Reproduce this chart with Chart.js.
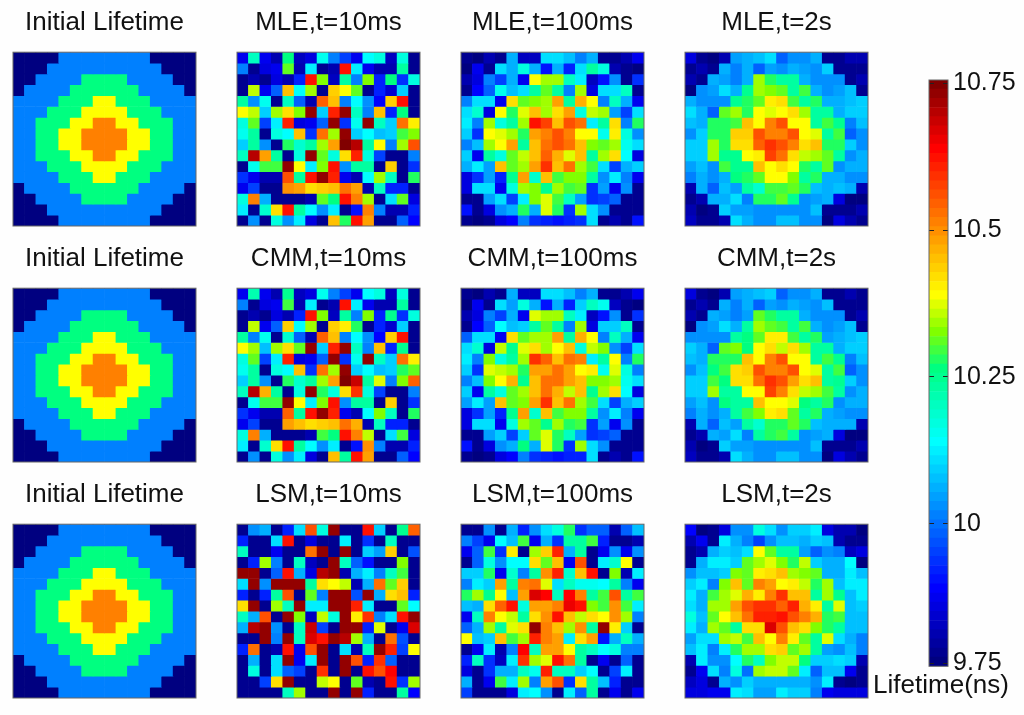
<!DOCTYPE html>
<html>
<head>
<meta charset="utf-8">
<title>Lifetime maps</title>
<script src="https://cdn.jsdelivr.net/npm/chart.js@4/dist/chart.umd.min.js"></script>
<style>
  html, body { margin: 0; padding: 0; background: #fefefe; }
  #page { position: relative; width: 1024px; height: 715px; overflow: hidden; }
  canvas { position: absolute; filter: blur(0.6px); }
</style>
</head>
<body>
<div id="page"></div>
<script>
/* ---------------------------
   Data: lifetime in ns, rows top to bottom
--------------------------- */
const initialLifetime = [
  [9.75,9.75,9.75,9.75,10,10,10,10,10,10,10,10,9.75,9.75,9.75,9.75],
  [9.75,9.75,9.75,10,10,10,10,10,10,10,10,10,10,9.75,9.75,9.75],
  [9.75,9.75,10,10,10,10,10.25,10.25,10.25,10.25,10,10,10,10,9.75,9.75],
  [9.75,10,10,10,10,10.25,10.25,10.25,10.25,10.25,10.25,10,10,10,10,9.75],
  [10,10,10,10,10.25,10.25,10.25,10.38,10.38,10.25,10.25,10.25,10,10,10,10],
  [10,10,10,10.25,10.25,10.25,10.38,10.38,10.38,10.38,10.25,10.25,10.25,10,10,10],
  [10,10,10.25,10.25,10.25,10.38,10.38,10.5,10.5,10.38,10.38,10.25,10.25,10.25,10,10],
  [10,10,10.25,10.25,10.38,10.38,10.5,10.5,10.5,10.5,10.38,10.38,10.25,10.25,10,10],
  [10,10,10.25,10.25,10.38,10.38,10.5,10.5,10.5,10.5,10.38,10.38,10.25,10.25,10,10],
  [10,10,10.25,10.25,10.25,10.38,10.38,10.5,10.5,10.38,10.38,10.25,10.25,10.25,10,10],
  [10,10,10,10.25,10.25,10.25,10.38,10.38,10.38,10.38,10.25,10.25,10.25,10,10,10],
  [10,10,10,10,10.25,10.25,10.25,10.38,10.38,10.25,10.25,10.25,10,10,10,10],
  [9.75,10,10,10,10,10.25,10.25,10.25,10.25,10.25,10.25,10,10,10,10,9.75],
  [9.75,9.75,10,10,10,10,10.25,10.25,10.25,10.25,10,10,10,10,9.75,9.75],
  [9.75,9.75,9.75,10,10,10,10,10,10,10,10,10,10,9.75,9.75,9.75],
  [9.75,9.75,9.75,9.75,10,10,10,10,10,10,10,10,9.75,9.75,9.75,9.75]
];

const mle10ms = [
  [9.87,10.2,9.87,9.8,10.25,9.82,9.85,10.15,10.0,9.94,9.87,10.14,10.16,9.82,10.17,9.77],
  [10.0,9.78,9.85,9.87,10.3,9.8,10.12,9.78,9.8,10.62,10.12,9.87,9.8,9.8,10.22,9.77],
  [9.77,9.8,9.77,9.85,9.8,9.92,10.62,10.32,9.82,10.22,10.0,10.32,9.92,10.25,9.93,10.17],
  [9.77,10.35,9.87,9.98,10.45,10.13,10.34,9.77,10.43,10.39,10.3,9.78,9.92,9.84,10.08,9.77],
  [10.22,10.02,10.15,9.77,10.19,9.98,9.8,10.54,10.44,10.0,10.14,10.03,9.88,10.43,10.62,9.77],
  [10.38,10.35,10.08,10.34,10.41,10.32,10.73,10.09,10.6,10.72,10.2,10.0,10.45,9.92,10.25,9.77],
  [10.16,10.3,9.95,10.12,10.6,9.85,9.87,9.98,10.73,9.93,10.15,10.72,10.2,10.08,10.53,10.4],
  [10.15,10.22,9.77,10.16,10.14,10.45,9.93,10.53,10.33,10.73,10.08,10.14,10.07,10.09,10.29,10.32],
  [10.08,10.22,10.03,9.77,10.28,10.18,10.23,10.33,10.48,10.74,10.7,10.23,10.38,10.0,10.34,10.55],
  [10.2,10.7,10.47,10.22,9.77,10.17,10.72,10.3,10.17,10.42,10.6,10.17,9.95,9.77,9.77,10.0],
  [9.77,10.15,10.29,10.29,10.72,10.38,10.11,10.32,10.62,10.02,10.22,10.23,9.77,10.43,9.77,9.93],
  [9.93,9.86,9.8,9.8,10.55,10.22,10.62,10.72,10.6,9.87,9.8,10.13,10.33,10.2,9.77,10.28],
  [9.87,9.95,9.77,9.77,10.49,10.47,10.42,10.43,10.44,10.53,10.47,9.8,10.2,9.92,9.92,9.77],
  [10.16,10.5,10.06,9.77,9.77,9.77,9.8,10.31,10.25,10.62,10.5,10.34,9.77,10.1,10.3,9.85],
  [10.12,9.77,10.18,10.42,10.62,10.22,10.14,10.03,10.12,9.77,9.9,10.5,10.01,9.8,9.8,9.92],
  [9.77,10.02,9.77,10.17,10.03,10.11,9.85,9.77,10.44,10.27,10.62,10.48,9.77,9.77,9.97,9.88]
];

const mle100ms = [
  [9.77,9.76,9.8,9.77,10.05,9.82,9.82,10.1,10.1,10.07,10.0,10.06,9.77,9.77,9.8,9.87],
  [9.76,9.87,9.78,10.1,10.05,10.17,10.06,9.9,10.06,9.92,10.1,10.22,10.16,9.8,9.78,9.76],
  [9.8,9.85,10.0,9.95,10.05,9.87,10.38,10.33,10.34,10.2,10.12,9.82,9.9,10.02,9.78,9.93],
  [9.77,9.88,9.97,10.15,10.07,10.1,10.23,10.31,10.23,10.0,10.33,9.85,10.1,10.1,10.2,9.77],
  [10.0,10.1,10.1,9.87,10.42,10.3,10.32,10.34,10.47,10.23,10.46,10.38,10.0,10.2,10.05,9.87],
  [10.1,10.18,9.85,10.38,10.28,10.36,10.45,10.33,10.41,10.48,10.16,10.35,10.33,10.04,9.95,10.1],
  [10.12,10.0,10.33,10.17,10.22,10.33,10.62,10.57,10.45,10.55,10.53,10.12,10.22,10.42,10.0,10.27],
  [10.08,9.93,10.39,10.36,10.33,10.27,10.47,10.5,10.55,10.5,10.39,10.39,10.15,10.4,10.17,10.02],
  [10.0,10.07,10.33,10.38,10.47,10.23,10.45,10.53,10.56,10.52,10.44,10.32,10.31,10.34,10.15,10.1],
  [10.08,9.87,10.22,10.16,10.3,10.35,10.44,10.54,10.46,10.37,10.44,10.23,10.33,10.42,10.13,9.85],
  [10.05,10.12,10.04,10.45,10.3,10.33,10.47,10.58,10.45,10.53,10.33,10.29,10.1,9.95,10.06,10.09],
  [9.85,9.93,10.04,9.92,10.24,10.47,10.18,10.44,10.29,10.32,10.32,10.22,10.02,10.11,10.0,9.87],
  [9.85,10.1,10.1,9.87,10.17,10.33,10.32,10.24,10.34,10.29,10.31,9.93,10.04,9.87,10.02,9.78],
  [9.77,9.78,10.04,10.1,9.94,10.11,10.32,10.36,10.29,10.2,10.04,9.93,9.95,9.98,9.78,9.77],
  [9.9,9.77,9.85,10.03,10.06,10.27,10.06,10.36,10.28,9.93,10.33,10.1,10.02,9.78,9.77,9.77],
  [9.77,9.76,9.77,9.85,9.88,10.0,9.93,9.92,9.9,9.92,9.93,10.1,9.78,9.8,9.78,9.9]
];

const mle2s = [
  [9.85,9.77,9.76,9.8,10.04,10.05,10.07,10.1,9.98,10.03,10.03,10.05,9.77,9.78,9.8,9.8],
  [9.77,9.8,9.77,10.06,10.0,10.06,9.98,10.04,10.02,10.06,10.04,10.02,10.08,9.78,9.77,9.78],
  [9.8,9.77,10.06,10.04,10.0,10.05,10.33,10.27,10.22,10.22,10.06,10.03,10.03,10.02,9.77,9.8],
  [9.76,10.03,10.04,10.1,10.06,10.24,10.33,10.32,10.3,10.23,10.29,10.05,10.03,10.04,10.07,9.77],
  [10.05,10.03,10.03,10.02,10.24,10.27,10.31,10.4,10.42,10.29,10.23,10.28,10.05,10.06,10.07,10.08],
  [10.1,10.05,9.98,10.31,10.34,10.28,10.38,10.36,10.38,10.41,10.33,10.22,10.22,10.06,10.08,10.09],
  [10.07,10.06,10.28,10.27,10.29,10.45,10.38,10.5,10.56,10.39,10.39,10.22,10.29,10.24,10.0,10.07],
  [10.03,10.08,10.28,10.28,10.43,10.43,10.55,10.5,10.5,10.56,10.38,10.37,10.22,10.29,9.98,10.03],
  [10.08,10.08,10.33,10.27,10.41,10.42,10.54,10.58,10.56,10.5,10.41,10.44,10.27,10.28,10.08,10.02],
  [10.08,10.08,10.34,10.24,10.24,10.38,10.4,10.57,10.52,10.41,10.35,10.33,10.31,10.23,10.03,10.06],
  [10.04,10.07,10.03,10.29,10.24,10.24,10.44,10.39,10.41,10.38,10.28,10.22,10.31,10.02,10.05,10.05],
  [10.0,10.05,10.03,10.06,10.26,10.28,10.31,10.39,10.39,10.32,10.22,10.28,10.05,10.05,10.03,10.03],
  [9.8,10.05,9.98,10.07,10.04,10.22,10.18,10.29,10.29,10.3,10.28,10.07,10.06,10.07,10.05,9.8],
  [9.77,9.8,10.05,10.05,10.1,10.0,10.27,10.27,10.31,10.24,10.03,10.04,10.05,9.85,9.76,9.76],
  [9.8,9.76,9.77,10.08,10.04,10.04,10.02,10.02,10.03,10.03,10.03,10.07,9.78,9.77,9.78,9.8],
  [9.82,9.77,9.78,9.8,10.1,10.05,10.03,10.03,10.07,10.07,10.03,10.02,9.76,9.85,9.8,9.78]
];

const cmm10ms = [
  [9.87,10.21,9.87,9.8,10.24,9.82,9.85,10.15,10.0,9.94,9.87,10.13,10.16,9.82,10.17,9.77],
  [10.0,9.78,9.85,9.87,10.29,9.8,10.12,9.78,9.8,10.62,10.12,9.87,9.8,9.8,10.22,9.77],
  [9.77,9.8,9.77,9.85,9.8,9.92,10.62,10.32,9.82,10.22,10.0,10.32,9.92,10.24,9.93,10.17],
  [9.77,10.35,9.87,9.98,10.43,10.13,10.34,9.77,10.43,10.4,10.28,9.78,9.92,9.84,10.08,9.77],
  [10.22,10.0,10.15,9.77,10.18,9.98,9.8,10.54,10.44,10.0,10.13,10.03,9.88,10.43,10.62,9.77],
  [10.38,10.34,10.07,10.34,10.41,10.3,10.73,10.09,10.6,10.72,10.2,10.0,10.45,9.92,10.24,9.77],
  [10.16,10.3,9.95,10.12,10.6,9.85,9.87,9.98,10.73,9.93,10.15,10.72,10.2,10.08,10.53,10.4],
  [10.15,10.22,9.77,10.16,10.13,10.45,9.93,10.53,10.33,10.73,10.08,10.14,10.07,10.09,10.27,10.3],
  [10.08,10.22,10.03,9.77,10.27,10.18,10.22,10.33,10.48,10.74,10.68,10.22,10.36,10.0,10.32,10.54],
  [10.2,10.7,10.46,10.22,9.77,10.17,10.72,10.28,10.17,10.42,10.58,10.17,9.95,9.77,9.77,10.0],
  [9.77,10.15,10.29,10.29,10.72,10.38,10.11,10.32,10.62,10.02,10.22,10.23,9.77,10.43,9.77,9.93],
  [9.93,9.86,9.8,9.8,10.54,10.22,10.62,10.72,10.6,9.87,9.8,10.13,10.32,10.2,9.77,10.28],
  [9.87,9.95,9.77,9.77,10.48,10.45,10.42,10.43,10.44,10.52,10.46,9.8,10.2,9.92,9.92,9.77],
  [10.16,10.5,10.06,9.77,9.77,9.77,9.8,10.29,10.25,10.62,10.5,10.35,9.77,10.1,10.29,9.85],
  [10.12,9.77,10.18,10.42,10.62,10.22,10.14,10.03,10.12,9.77,9.9,10.49,10.01,9.8,9.8,9.92],
  [9.77,10.02,9.77,10.17,10.03,10.11,9.85,9.77,10.44,10.23,10.62,10.48,9.77,9.77,9.97,9.88]
];

const cmm100ms = [
  [9.77,9.76,9.8,9.77,10.05,9.82,9.82,10.1,10.1,10.07,10.0,10.05,9.77,9.77,9.8,9.87],
  [9.76,9.87,9.78,10.1,10.04,10.16,10.06,9.9,10.05,9.92,10.09,10.2,10.15,9.82,9.78,9.76],
  [9.8,9.85,10.0,9.95,10.05,9.87,10.37,10.33,10.34,10.2,10.12,9.82,9.9,10.02,9.78,9.93],
  [9.77,9.88,9.97,10.13,10.07,10.09,10.22,10.31,10.22,10.0,10.33,9.85,10.08,10.09,10.2,9.77],
  [9.98,10.1,10.1,9.87,10.42,10.3,10.33,10.33,10.47,10.23,10.46,10.38,10.0,10.2,10.05,9.87],
  [10.1,10.18,9.85,10.35,10.24,10.36,10.42,10.34,10.39,10.45,10.16,10.35,10.32,10.03,9.95,10.1],
  [10.12,10.0,10.32,10.16,10.22,10.33,10.58,10.54,10.45,10.52,10.5,10.12,10.22,10.39,10.0,10.27],
  [10.08,9.93,10.37,10.35,10.33,10.28,10.47,10.47,10.53,10.48,10.38,10.4,10.15,10.36,10.17,10.0],
  [10.0,10.07,10.32,10.38,10.46,10.24,10.44,10.53,10.53,10.47,10.44,10.32,10.32,10.33,10.15,10.1],
  [10.08,9.87,10.22,10.16,10.3,10.34,10.44,10.53,10.46,10.35,10.44,10.24,10.33,10.42,10.13,9.85],
  [10.04,10.12,10.04,10.44,10.3,10.32,10.47,10.58,10.45,10.52,10.33,10.29,10.1,9.95,10.06,10.09],
  [9.85,9.93,10.04,9.92,10.24,10.47,10.18,10.44,10.29,10.32,10.32,10.22,10.03,10.11,10.0,9.87],
  [9.85,10.1,10.1,9.87,10.17,10.33,10.3,10.24,10.33,10.27,10.29,9.93,10.04,9.87,10.02,9.78],
  [9.77,9.78,10.04,10.09,9.94,10.09,10.31,10.36,10.28,10.2,10.04,9.93,9.95,9.98,9.78,9.77],
  [9.9,9.77,9.85,10.03,10.06,10.26,10.06,10.36,10.27,9.93,10.33,10.1,10.02,9.78,9.77,9.77],
  [9.77,9.76,9.77,9.85,9.88,10.0,9.93,9.92,9.9,9.92,9.92,10.1,9.78,9.8,9.78,9.9]
];

const cmm2s = [
  [9.85,9.77,9.76,9.8,10.04,10.05,10.07,10.09,9.98,10.03,10.03,10.05,9.77,9.78,9.8,9.78],
  [9.77,9.8,9.77,10.05,10.0,10.06,9.98,10.04,10.02,10.05,10.04,10.02,10.07,9.78,9.77,9.78],
  [9.8,9.77,10.05,10.04,10.0,10.04,10.31,10.27,10.22,10.22,10.05,10.03,10.03,10.02,9.77,9.8],
  [9.76,10.03,10.04,10.1,10.06,10.23,10.33,10.31,10.29,10.23,10.29,10.05,10.03,10.04,10.07,9.77],
  [10.03,10.03,10.03,10.02,10.22,10.26,10.3,10.4,10.4,10.29,10.23,10.27,10.04,10.06,10.07,10.08],
  [10.09,10.05,9.98,10.3,10.32,10.25,10.38,10.41,10.35,10.41,10.33,10.22,10.22,10.06,10.08,10.09],
  [10.07,10.06,10.27,10.27,10.27,10.45,10.38,10.5,10.56,10.38,10.39,10.22,10.29,10.24,10.0,10.07],
  [10.03,10.07,10.25,10.29,10.42,10.43,10.55,10.5,10.5,10.56,10.38,10.37,10.22,10.29,9.98,10.02],
  [10.08,10.08,10.29,10.26,10.41,10.42,10.52,10.58,10.55,10.48,10.41,10.44,10.22,10.24,10.08,10.02],
  [10.08,10.08,10.33,10.22,10.23,10.38,10.38,10.57,10.5,10.42,10.35,10.33,10.29,10.22,10.03,10.05],
  [10.04,10.07,10.03,10.26,10.22,10.23,10.44,10.38,10.39,10.37,10.26,10.22,10.28,10.02,10.05,10.05],
  [10.0,10.05,10.03,10.06,10.23,10.29,10.32,10.4,10.41,10.3,10.22,10.27,10.05,10.04,10.03,10.03],
  [9.8,10.05,9.98,10.07,10.04,10.22,10.18,10.28,10.28,10.31,10.28,10.07,10.06,10.06,10.05,9.8],
  [9.77,9.8,10.05,10.04,10.1,10.0,10.23,10.28,10.29,10.23,10.03,10.04,10.05,9.85,9.76,9.76],
  [9.8,9.76,9.77,10.08,10.04,10.04,10.03,10.03,10.03,10.03,10.03,10.07,9.78,9.77,9.78,9.8],
  [9.82,9.77,9.78,9.8,10.1,10.05,10.03,10.03,10.07,10.07,10.03,10.02,9.76,9.85,9.8,9.78]
];

const lsm10ms = [
  [9.77,10.03,10.05,9.78,9.92,10.1,10.56,10.16,10.72,9.77,9.77,10.62,10.08,9.78,10.24,10.54],
  [9.92,9.77,9.77,10.1,10.62,9.77,9.85,9.77,9.77,10.12,9.77,9.93,9.77,10.2,9.77,9.77],
  [10.2,9.77,9.77,9.87,9.77,9.77,10.53,10.72,9.78,10.72,9.77,10.08,10.04,10.43,9.77,9.96],
  [9.77,9.92,10.34,10.0,9.77,10.2,9.82,9.77,10.72,10.19,9.98,9.9,9.77,9.77,10.32,9.77],
  [10.73,10.72,9.78,9.98,10.62,10.06,9.85,10.7,10.72,9.8,10.06,10.11,10.0,10.2,10.29,9.77],
  [10.1,10.72,10.03,10.73,10.73,10.73,10.23,10.42,10.38,10.35,9.8,10.05,10.52,10.31,10.43,9.77],
  [9.92,9.78,9.92,10.22,10.55,9.78,10.31,10.0,10.73,10.73,9.96,10.72,10.05,10.42,10.45,9.92],
  [10.41,10.72,9.78,10.33,10.2,10.72,10.11,10.11,10.73,10.73,10.6,10.11,9.78,9.78,10.3,10.13],
  [10.19,10.05,10.55,9.78,10.72,10.32,9.82,10.35,10.16,10.73,10.4,10.58,10.0,10.1,10.62,10.72],
  [10.05,10.7,10.72,10.03,9.78,10.2,10.68,9.95,9.78,10.73,10.72,9.92,10.37,9.78,9.87,10.66],
  [9.77,9.77,10.72,10.0,10.72,10.2,10.66,10.62,10.72,10.7,10.33,10.05,9.78,10.52,9.96,9.78],
  [9.92,10.52,9.78,9.8,10.62,9.87,10.56,10.72,9.78,10.1,9.8,10.19,10.73,10.6,9.95,10.38],
  [9.77,10.06,9.78,10.1,10.72,9.87,10.12,10.72,9.78,10.72,10.55,9.92,10.58,9.98,9.77,9.77],
  [9.77,10.16,9.78,10.1,9.97,9.95,9.78,10.58,9.78,10.72,9.78,10.62,10.56,10.64,9.77,9.77],
  [9.77,9.77,9.95,10.42,10.72,9.78,9.78,10.35,10.39,9.78,10.3,9.8,9.78,10.62,9.93,10.34],
  [9.77,9.77,9.77,9.77,10.19,10.34,9.78,9.78,10.72,9.78,10.72,9.92,9.78,9.78,10.22,9.88]
];

const lsm100ms = [
  [9.77,9.77,10.03,9.78,10.05,9.92,10.02,10.1,10.16,10.28,9.93,9.97,9.97,9.8,9.98,10.07],
  [10.0,9.95,9.87,10.14,10.07,10.29,9.87,10.06,9.93,10.22,10.22,10.29,9.92,9.78,9.77,9.8],
  [9.87,9.98,10.29,9.93,10.4,9.78,10.33,10.43,10.6,10.06,10.22,9.78,9.87,10.02,9.87,10.03],
  [9.78,9.97,10.16,10.02,10.13,10.13,10.41,10.31,10.44,9.87,10.55,9.78,10.11,10.18,10.38,9.77],
  [10.08,10.08,10.27,9.87,10.18,10.0,10.22,10.49,10.6,10.18,10.44,10.62,9.78,10.32,9.8,10.12],
  [10.0,10.11,10.09,10.47,10.23,10.5,10.52,10.37,10.1,10.2,10.15,10.15,10.13,10.22,10.0,9.87],
  [10.28,10.34,10.24,10.39,10.07,10.47,10.66,10.63,10.2,10.63,10.5,10.23,10.29,10.55,10.23,10.29],
  [10.07,10.05,10.41,10.54,10.61,10.16,10.47,10.47,10.5,10.65,10.62,10.32,10.29,10.49,10.29,10.12],
  [9.87,10.2,10.51,10.38,10.35,10.23,10.41,10.49,10.62,10.45,10.35,10.42,10.38,10.49,10.34,10.0],
  [9.98,10.06,10.34,10.22,10.37,10.41,10.73,10.5,10.44,10.33,10.49,10.22,10.73,10.4,10.08,9.77],
  [10.38,10.07,10.08,10.45,10.29,10.33,10.6,10.5,10.48,10.12,10.41,10.48,9.9,10.06,10.2,10.05],
  [9.77,9.87,10.11,9.8,10.0,10.64,10.19,10.47,10.47,10.38,10.22,10.2,10.13,10.17,10.0,10.0],
  [9.92,10.2,9.93,9.82,10.11,10.58,10.34,10.37,10.62,10.52,10.22,9.78,9.87,9.78,9.97,9.77],
  [9.85,9.77,9.93,10.05,10.05,10.2,10.15,10.6,10.2,10.2,10.09,10.13,9.77,9.95,10.11,9.77],
  [10.05,9.77,9.87,10.29,10.12,10.34,10.0,10.47,10.56,9.93,10.42,10.22,10.07,9.92,9.77,9.77],
  [9.95,9.77,9.77,9.78,9.85,10.11,10.13,10.03,9.77,10.11,9.98,10.22,9.78,9.87,9.78,9.87]
];

const lsm2s = [
  [9.88,9.75,9.78,9.85,10.03,10.03,10.17,10.1,10.02,10.09,10.09,10.12,9.85,9.8,9.8,9.76],
  [9.8,9.87,9.78,10.12,10.05,10.0,9.95,10.03,10.07,10.07,10.06,10.09,10.07,9.8,9.78,9.78],
  [9.77,9.8,10.06,10.09,10.07,10.1,10.39,10.3,10.22,10.22,10.04,9.98,10.03,10.0,9.82,9.85],
  [9.78,10.05,10.11,10.11,10.09,10.3,10.34,10.37,10.32,10.28,10.35,10.08,10.05,10.06,10.13,9.76],
  [10.03,10.07,10.07,10.09,10.32,10.31,10.4,10.41,10.44,10.33,10.32,10.31,10.05,10.05,10.12,10.07],
  [10.08,10.11,10.0,10.32,10.44,10.3,10.5,10.48,10.38,10.4,10.35,10.27,10.33,10.07,10.12,10.12],
  [10.12,10.06,10.29,10.34,10.37,10.46,10.4,10.5,10.58,10.44,10.45,10.22,10.33,10.24,10.07,10.12],
  [10.1,10.06,10.33,10.34,10.47,10.55,10.58,10.58,10.54,10.6,10.46,10.4,10.22,10.36,10.07,10.08],
  [10.17,10.07,10.31,10.38,10.44,10.52,10.6,10.6,10.62,10.56,10.5,10.46,10.27,10.29,10.07,10.07],
  [10.12,10.05,10.34,10.31,10.23,10.42,10.42,10.66,10.55,10.44,10.42,10.32,10.27,10.22,10.07,10.07],
  [10.04,10.1,10.1,10.33,10.35,10.29,10.45,10.39,10.5,10.4,10.3,10.22,10.36,10.1,10.05,10.0],
  [10.07,10.11,10.0,10.11,10.28,10.34,10.33,10.42,10.43,10.31,10.33,10.22,10.04,10.03,10.07,10.0],
  [9.8,10.11,10.02,10.02,10.13,10.27,10.2,10.32,10.35,10.35,10.26,10.08,10.08,10.1,10.09,9.8],
  [9.77,9.87,10.1,10.0,10.16,9.99,10.34,10.35,10.35,10.3,10.11,9.98,10.07,10.07,9.87,9.78],
  [9.82,9.85,9.78,10.06,10.03,10.08,10.05,10.05,10.05,10.05,10.06,10.03,10.11,9.77,9.75,9.78],
  [9.85,9.85,9.87,9.87,10.12,10.1,10.04,10.04,10.12,10.08,10.08,10.0,9.87,9.85,9.85,9.85]
];

const panelTitles = [
  ["Initial Lifetime", "MLE,t=10ms", "MLE,t=100ms", "MLE,t=2s"],
  ["Initial Lifetime", "CMM,t=10ms", "CMM,t=100ms", "CMM,t=2s"],
  ["Initial Lifetime", "LSM,t=10ms", "LSM,t=100ms", "LSM,t=2s"]
];
const panelGrids = [
  [initialLifetime, mle10ms, mle100ms, mle2s],
  [initialLifetime, cmm10ms, cmm100ms, cmm2s],
  [initialLifetime, lsm10ms, lsm100ms, lsm2s]
];

const colorbarTickValues = [9.763, 10, 10.25, 10.5, 10.75];
const colorbarTickLabels = ["9.75", "10", "10.25", "10.5", "10.75"];
const colorbarTitle = "Lifetime(ns)";

/* ---------------------------
   Colour map: 64 bands, 9.75 to 10.75
--------------------------- */
const LIFE_MIN = 9.75;
const LIFE_MAX = 10.75;
const BANDS = 64;
const colorStops = [
  [0, 0, 0, 128], [0.125, 0, 0, 255], [0.25, 0, 128, 255], [0.375, 0, 255, 255],
  [0.5, 0, 255, 128], [0.5625, 128, 255, 0], [0.625, 255, 255, 0],
  [0.75, 255, 128, 0], [0.875, 255, 0, 0], [0.985, 128, 0, 0]
];

function bandColor(i) {
  const t = i / BANDS;
  let k = 0;
  while (k < colorStops.length - 2 && t > colorStops[k + 1][0]) k++;
  const a = colorStops[k];
  const b = colorStops[k + 1];
  const f = (t - a[0]) / (b[0] - a[0]);
  const c = [1, 2, 3].map(j => Math.round(a[j] + (b[j] - a[j]) * f));
  return `rgb(${c[0]},${c[1]},${c[2]})`;
}

function lifeColor(v) {
  const i = Math.floor((v - LIFE_MIN) / (LIFE_MAX - LIFE_MIN) * BANDS + 1e-6);
  return bandColor(Math.max(0, Math.min(BANDS - 1, i)));
}

/* ---------------------------
   Shared bits
--------------------------- */
const FONT = "'Liberation Sans', Arial, sans-serif";

const frameBox = {
  id: "frameBox",
  afterDraw(chart) {
    const { ctx, chartArea: a } = chart;
    ctx.save();
    ctx.strokeStyle = "#666";
    ctx.lineWidth = 1;
    ctx.strokeRect(a.left, a.top, a.right - a.left, a.bottom - a.top);
    ctx.restore();
  }
};

function addCanvas(left, top, width, height) {
  const canvas = document.createElement("canvas");
  canvas.width = width;
  canvas.height = height;
  canvas.style.left = left + "px";
  canvas.style.top = top + "px";
  canvas.style.width = width + "px";
  canvas.style.height = height + "px";
  document.getElementById("page").appendChild(canvas);
  return canvas;
}

/* ---------------------------
   Heat map panel: one floating bar per cell, one dataset per row
--------------------------- */
function renderPanel(left, top, title, grid) {
  const canvas = addCanvas(left, top, 185, 221);
  const columns = grid[0].map((_, i) => String(i));
  new Chart(canvas, {
    type: "bar",
    data: {
      labels: columns,
      datasets: grid.map((row, r) => ({
        data: row.map(() => [r, r + 1]),
        backgroundColor: row.map(v => lifeColor(v)),
        borderWidth: 0,
        grouped: false,
        categoryPercentage: 1,
        barPercentage: 1
      }))
    },
    options: {
      responsive: false,
      animation: false,
      layout: { padding: { left: 1, right: 1, top: 1, bottom: 1 } },
      plugins: {
        legend: { display: false },
        tooltip: { enabled: false },
        title: {
          display: true,
          text: title,
          color: "#111",
          font: { family: FONT, size: 26, weight: "normal", lineHeight: 1.2 },
          padding: { top: 0, bottom: 14 }
        }
      },
      scales: {
        x: { display: false },
        y: { display: false, reverse: true, min: 0, max: grid.length }
      }
    },
    plugins: [frameBox]
  });
}

/* ---------------------------
   Colour bar
--------------------------- */
function renderColorbar() {
  const canvas = addCanvas(860, 60, 162, 641);
  const bands = Array.from({ length: BANDS }, (_, i) => i);
  new Chart(canvas, {
    type: "bar",
    data: {
      labels: ["lifetime"],
      datasets: bands.map(i => ({
        data: [[i, i + 1]],
        yAxisID: "yBand",
        backgroundColor: bandColor(i),
        borderWidth: 0,
        grouped: false,
        categoryPercentage: 1,
        barPercentage: 1
      }))
    },
    options: {
      responsive: false,
      animation: false,
      layout: { padding: { left: 0, right: 0, top: 17.5, bottom: 0 } },
      plugins: {
        legend: { display: false },
        tooltip: { enabled: false },
        title: {
          display: true,
          position: "bottom",
          text: colorbarTitle,
          color: "#111",
          font: { family: FONT, size: 26, weight: "normal", lineHeight: 1.2 },
          padding: { top: 3.5, bottom: 0 }
        }
      },
      scales: {
        x: { display: false },
        yBand: {
          position: "left",
          min: 0,
          max: BANDS,
          afterFit(scale) {
            scale.width = 69;
          },
          border: { display: false },
          grid: { display: false },
          ticks: { display: false }
        },
        yTick: {
          position: "right",
          min: 9.7576,
          max: 10.7555,
          afterBuildTicks(scale) {
            scale.ticks = colorbarTickValues.map(value => ({ value }));
          },
          afterFit(scale) {
            scale.width = 74;
          },
          border: { display: false, dash: [5, 9] },
          grid: { drawTicks: false, color: "#222", z: 1, tickLength: 0 },
          ticks: {
            autoSkip: false,
            padding: 5,
            color: "#111",
            font: { family: FONT, size: 25 },
            callback: (value, i) => colorbarTickLabels[i]
          }
        }
      }
    },
    plugins: [frameBox]
  });
}

/* ---------------------------
   Start
--------------------------- */
const panelLefts = [12, 236, 460, 684];
const panelTops = [6, 242, 478];

panelTitles.forEach((row, r) => {
  row.forEach((title, c) => {
    renderPanel(panelLefts[c], panelTops[r], title, panelGrids[r][c]);
  });
});
renderColorbar();
</script>
</body>
</html>
